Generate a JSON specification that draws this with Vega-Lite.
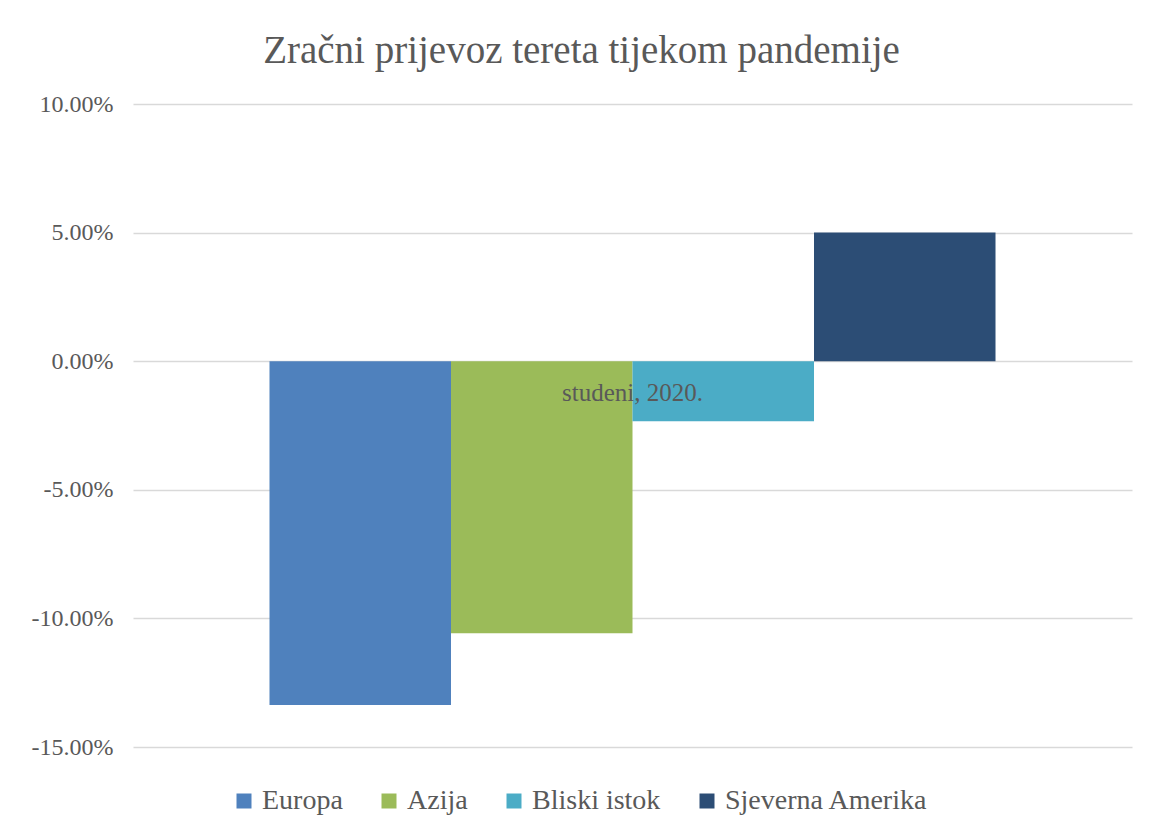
{
  "$schema": "https://vega.github.io/schema/vega-lite/v6.json",
  "width": 999,
  "height": 643,
  "autosize": {"type": "none"},
  "padding": {"left": 133, "top": 104, "right": 24, "bottom": 90},
  "background": "white",
  "title": {
    "text": "Zračni prijevoz tereta tijekom pandemije",
    "font": "Liberation Serif",
    "fontSize": 39,
    "fontWeight": "normal",
    "color": "#595959",
    "anchor": "middle",
    "frame": "bounds",
    "offset": 21
  },
  "data": {
    "values": [
      {"period": "studeni, 2020.", "region": "Europa", "value": -0.1337},
      {"period": "studeni, 2020.", "region": "Azija", "value": -0.1058},
      {"period": "studeni, 2020.", "region": "Bliski istok", "value": -0.0233},
      {"period": "studeni, 2020.", "region": "Sjeverna Amerika", "value": 0.05}
    ]
  },
  "mark": {"type": "bar"},
  "encoding": {
    "x": {
      "field": "period",
      "type": "nominal",
      "scale": {"paddingInner": 0, "paddingOuter": 0.188},
      "axis": {
        "title": null,
        "domain": false,
        "ticks": false,
        "labelAngle": 0,
        "labelFont": "Liberation Serif",
        "labelFontSize": 25,
        "labelColor": "#595959",
        "labelPadding": 19,
        "offset": -386,
        "zindex": 1
      }
    },
    "xOffset": {
      "field": "region",
      "type": "nominal",
      "sort": ["Europa", "Azija", "Bliski istok", "Sjeverna Amerika"],
      "scale": {"paddingInner": 0, "paddingOuter": 0}
    },
    "y": {
      "field": "value",
      "type": "quantitative",
      "scale": {"domain": [-0.15, 0.1], "nice": false, "zero": false},
      "axis": {
        "title": null,
        "values": [-0.15, -0.1, -0.05, 0, 0.05, 0.1],
        "labelExpr": "replace(format(datum.value, '.2%'), '\u2212', '-')",
        "domain": false,
        "ticks": false,
        "labelFont": "Liberation Serif",
        "labelFontSize": 24,
        "labelColor": "#595959",
        "labelPadding": 20,
        "gridColor": "#d9d9d9",
        "gridWidth": 1.3
      }
    },
    "color": {
      "field": "region",
      "type": "nominal",
      "sort": ["Europa", "Azija", "Bliski istok", "Sjeverna Amerika"],
      "scale": {
        "domain": ["Europa", "Azija", "Bliski istok", "Sjeverna Amerika"],
        "range": ["#4f81bd", "#9bbb59", "#4bacc6", "#2c4d75"]
      },
      "legend": {
        "title": null,
        "orient": "none",
        "legendX": 97,
        "legendY": 683,
        "direction": "horizontal",
        "symbolType": "square",
        "symbolSize": 225,
        "symbolStrokeWidth": 0,
        "labelFont": "Liberation Serif",
        "labelFontSize": 28,
        "labelColor": "#595959",
        "labelOffset": 4,
        "labelLimit": 0,
        "columnPadding": 32
      }
    }
  },
  "config": {
    "view": {"stroke": null}
  }
}
